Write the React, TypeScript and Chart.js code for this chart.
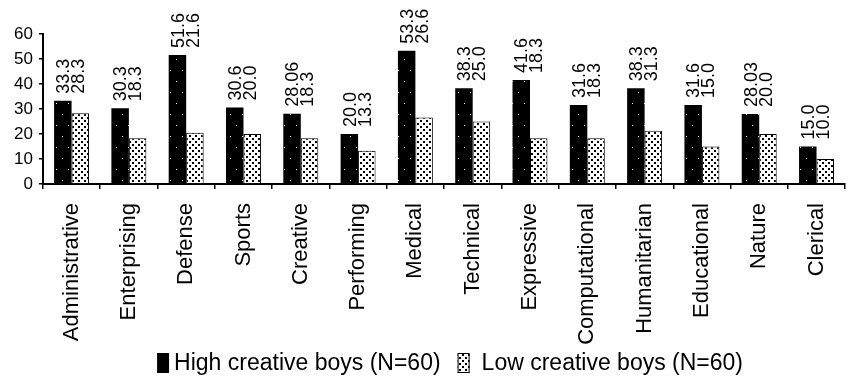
import React, { useEffect, useRef } from "react";
import { Chart, registerables } from "chart.js";
Chart.register(...registerables);

const categories = ["Administrative", "Enterprising", "Defense", "Sports", "Creative", "Performing", "Medical", "Technical", "Expressive", "Computational", "Humanitarian", "Educational", "Nature", "Clerical"];
const highValues = [33.3, 30.3, 51.6, 30.6, 28.06, 20.0, 53.3, 38.3, 41.6, 31.6, 38.3, 31.6, 28.03, 15.0];
const lowValues = [28.3, 18.3, 20.5, 20.0, 18.3, 13.3, 26.6, 25.0, 18.3, 18.3, 21.3, 15.0, 20.0, 10.0];
const highLabels = ["33.3", "30.3", "51.6", "30.6", "28.06", "20.0", "53.3", "38.3", "41.6", "31.6", "38.3", "31.6", "28.03", "15.0"];
const lowLabels = ["28.3", "18.3", "21.6", "20.0", "18.3", "13.3", "26.6", "25.0", "18.3", "18.3", "31.3", "15.0", "20.0", "10.0"];
const seriesNames = ["High creative boys (N=60)", "Low creative boys (N=60)"];
const yMin = 0;
const yMax = 60;
const yStep = 10;

const FONT = '"Liberation Sans", Arial, Helvetica, sans-serif';

function makeHighPattern(ctx: CanvasRenderingContext2D) {
  const c = document.createElement("canvas");
  c.width = 12;
  c.height = 22;
  const g = c.getContext("2d")!;
  g.fillStyle = "#000";
  g.fillRect(0, 0, 12, 22);
  g.fillStyle = "#fff";
  g.fillRect(2, 4, 1, 1);
  g.fillRect(8, 15, 1, 1);
  return ctx.createPattern(c, "repeat")!;
}

function makeLowPattern(ctx: CanvasRenderingContext2D) {
  const c = document.createElement("canvas");
  c.width = 6;
  c.height = 6;
  const g = c.getContext("2d")!;
  g.fillStyle = "#fff";
  g.fillRect(0, 0, 6, 6);
  g.fillStyle = "#000";
  g.fillRect(0, 0, 2, 2);
  g.fillRect(3, 3, 2, 2);
  return ctx.createPattern(c, "repeat")!;
}

const valueLabelPlugin = {
  id: "valueLabels",
  afterDatasetsDraw(chart: any) {
    const { ctx } = chart;
    const m0 = chart.getDatasetMeta(0);
    const m1 = chart.getDatasetMeta(1);
    ctx.save();
    ctx.font = `18px ${FONT}`;
    ctx.fillStyle = "#000";
    ctx.textAlign = "left";
    ctx.textBaseline = "middle";
    categories.forEach((_, i) => {
      const a = m0.data[i];
      const b = m1.data[i];
      const x = (a.x + b.x) / 2;
      const y = Math.min(a.y, b.y) - 7;
      ctx.save();
      ctx.translate(x, y);
      ctx.rotate(-Math.PI / 2);
      ctx.fillText(highLabels[i], 0, -7.5);
      ctx.fillText(lowLabels[i], 0, 7.5);
      ctx.restore();
    });
    ctx.restore();
  },
};

const legendPlugin = {
  id: "customLegend",
  afterDraw(chart: any) {
    const { ctx, chartArea } = chart;
    const ds = chart.data.datasets;
    ctx.save();
    ctx.font = `23px ${FONT}`;
    ctx.textBaseline = "middle";
    ctx.textAlign = "left";
    const boxW = 12;
    const boxH = 20;
    const w1 = ctx.measureText(ds[0].label).width;
    const w2 = ctx.measureText(ds[1].label).width;
    const total = boxW + 5 + w1 + 17 + boxW + 12 + w2;
    const cy = chart.height - 16;
    let x = (chartArea.left + chartArea.right) / 2 - total / 2 + 6;
    ctx.fillStyle = "#000";
    ctx.fillRect(x, cy - boxH / 2, boxW, boxH);
    x += boxW + 5;
    ctx.fillText(ds[0].label, x, cy + 1);
    x += w1 + 17;
    ctx.fillStyle = ds[1].backgroundColor;
    ctx.fillRect(x, cy - boxH / 2, boxW, boxH);
    ctx.strokeStyle = "#000";
    ctx.lineWidth = 1;
    ctx.strokeRect(x + 0.5, cy - boxH / 2 + 0.5, boxW - 1, boxH - 1);
    x += boxW + 12;
    ctx.fillStyle = "#000";
    ctx.fillText(ds[1].label, x, cy + 1);
    ctx.restore();
  },
};

export default function App() {
  const ref = useRef<HTMLCanvasElement>(null);
  useEffect(() => {
    document.body.style.margin = "0";
    const canvas = ref.current!;
    const ctx = canvas.getContext("2d")!;
    const highPat = makeHighPattern(ctx);
    const lowPat = makeLowPattern(ctx);
    const chart = new Chart(canvas, {
      type: "bar",
      data: {
        labels: categories,
        datasets: [
          {
            label: seriesNames[0],
            data: highValues,
            backgroundColor: highPat,
            borderColor: "#000",
            borderWidth: 0,
            categoryPercentage: 0.61,
            barPercentage: 1.0,
          },
          {
            label: seriesNames[1],
            data: lowValues,
            backgroundColor: lowPat,
            borderColor: "#000",
            borderWidth: 1,
            categoryPercentage: 0.61,
            barPercentage: 1.0,
          },
        ],
      },
      options: {
        animation: false,
        responsive: true,
        maintainAspectRatio: false,
        layout: { padding: { top: 34, left: 8, right: 2, bottom: 35 } },
        plugins: {
          tooltip: { enabled: false },
          legend: { display: false },
        },
        scales: {
          x: {
            afterFit: (scale: any) => {
              scale.height = 160;
            },
            grid: { display: true, offset: true, drawOnChartArea: false, drawTicks: true, tickLength: 5, color: "#000", lineWidth: 1.5 },
            border: { display: true, color: "#000", width: 2 },
            ticks: { color: "#000", maxRotation: 90, minRotation: 90, autoSkip: false, padding: 14, font: { size: 22, family: FONT } },
          },
          y: {
            min: yMin,
            max: yMax,
            grid: { display: true, drawOnChartArea: false, drawTicks: true, tickLength: 4, color: "#000", lineWidth: 1.5 },
            border: { display: true, color: "#000", width: 2 },
            ticks: { color: "#000", stepSize: yStep, autoSkip: false, padding: 6, font: { size: 17, family: FONT } },
          },
        },
      },
      plugins: [valueLabelPlugin, legendPlugin],
    });
    return () => chart.destroy();
  }, []);
  return (
    <div style={{ position: "relative", width: 857, height: 379 }}>
      <canvas ref={ref} />
    </div>
  );
}
